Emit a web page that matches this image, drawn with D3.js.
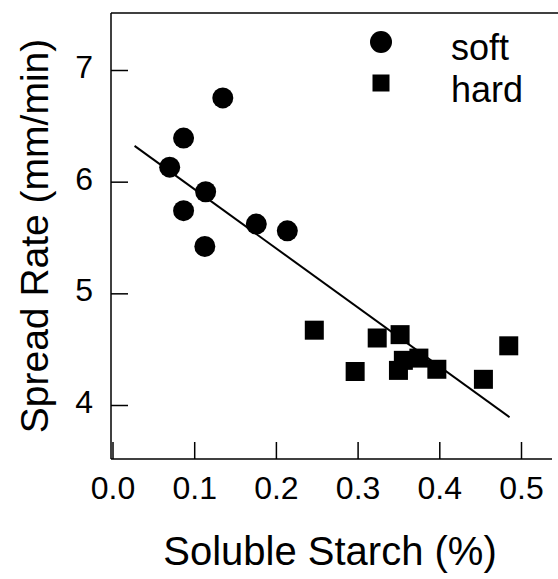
<!DOCTYPE html>
<html><head><meta charset="utf-8">
<script src="https://cdn.jsdelivr.net/npm/d3@7"></script>
<style>body{margin:0;background:#fff}svg{display:block}text{font-family:"Liberation Sans",Arial,sans-serif;fill:#000}</style>
</head><body><svg id="c" width="558" height="579"></svg>
<script>
const softX = [0.135, 0.087, 0.070, 0.114, 0.087, 0.113, 0.176, 0.214];
const softY = [6.75, 6.39, 6.13, 5.91, 5.74, 5.42, 5.62, 5.56];
const hardX = [0.247, 0.324, 0.352, 0.297, 0.350, 0.356, 0.375, 0.397, 0.454, 0.485];
const hardY = [4.67, 4.60, 4.63, 4.30, 4.31, 4.40, 4.42, 4.32, 4.23, 4.53];
const fitX = [0.027, 0.486];
const fitY = [6.32, 3.89];
const xTicks = [0.0, 0.1, 0.2, 0.3, 0.4, 0.5];
const yTicks = [4, 5, 6, 7];
const legendLabels = ["soft", "hard"];

const svg = d3.select("#c");
const x = d3.scaleLinear().domain([0, 0.5]).range([112.5, 521]);
const y = d3.scaleLinear().domain([4, 7]).range([405, 70]);
const L = 111, B = 459, T = 13;

// frame lines
svg.append("line").attr("x1", L).attr("x2", L).attr("y1", T).attr("y2", B).attr("stroke", "#000").attr("stroke-width", 1.5);
svg.append("line").attr("x1", L).attr("x2", 558).attr("y1", T).attr("y2", T).attr("stroke", "#000").attr("stroke-width", 1.5);
svg.append("line").attr("x1", L).attr("x2", 552).attr("y1", B).attr("y2", B).attr("stroke", "#000").attr("stroke-width", 1.5);

const ya = svg.append("g").attr("transform", `translate(${L},0)`)
  .call(d3.axisLeft(y).tickValues(yTicks).tickFormat(d3.format("d")).tickSizeInner(-17).tickSizeOuter(0).tickPadding(18));
ya.select(".domain").remove();
ya.selectAll("line").attr("stroke-width", 1.5);
ya.selectAll("text").style("font-size", "32px").attr("y", -4).attr("dy", "0.36em");

const xa = svg.append("g").attr("transform", `translate(0,${B})`)
  .call(d3.axisBottom(x).tickValues(xTicks).tickFormat(d3.format(".1f")).tickSizeInner(-17).tickSizeOuter(0).tickPadding(17));
xa.select(".domain").remove();
xa.selectAll("line").attr("stroke-width", 1.5);
xa.selectAll("text").style("font-size", "32px");

// fit line
svg.append("line").attr("x1", x(fitX[0])).attr("y1", y(fitY[0])).attr("x2", x(fitX[1])).attr("y2", y(fitY[1]))
  .attr("stroke", "#000").attr("stroke-width", 2);

// points
svg.selectAll(".soft").data(softX.map((d, i) => [d, softY[i]])).enter().append("circle")
  .attr("cx", d => x(d[0])).attr("cy", d => y(d[1])).attr("r", 10.5).attr("fill", "#000");
const s = 19;
svg.selectAll(".hard").data(hardX.map((d, i) => [d, hardY[i]])).enter().append("rect")
  .attr("x", d => x(d[0]) - s / 2).attr("y", d => y(d[1]) - s / 2).attr("width", s).attr("height", s).attr("fill", "#000");

// legend
svg.append("circle").attr("cx", 381).attr("cy", 42).attr("r", 11).attr("fill", "#000");
svg.append("rect").attr("x", 372.5).attr("y", 74.5).attr("width", 17).attr("height", 17).attr("fill", "#000");
svg.append("text").attr("x", 451).attr("y", 60).style("font-size", "36px").text(legendLabels[0]);
svg.append("text").attr("x", 451).attr("y", 102).style("font-size", "36px").text(legendLabels[1]);

// axis titles
svg.append("text").attr("x", 330).attr("y", 565).attr("text-anchor", "middle").style("font-size", "40px").text("Soluble Starch (%)");
svg.append("text").attr("transform", "translate(48,236) rotate(-90)").attr("text-anchor", "middle").style("font-size", "39px").text("Spread Rate (mm/min)");
</script></body></html>
